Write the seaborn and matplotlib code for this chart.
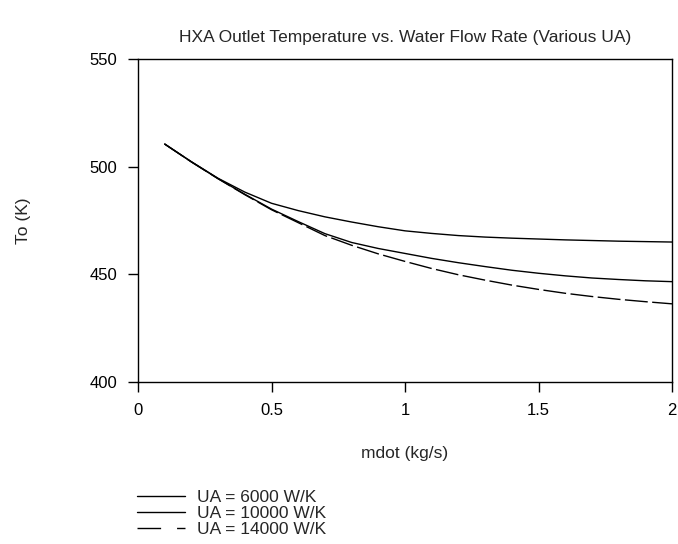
import numpy as np
import pandas as pd
import matplotlib
matplotlib.use("Agg")
import matplotlib.pyplot as plt
import seaborn as sns

mdot = [0.1, 0.2, 0.3, 0.4, 0.5, 0.6, 0.7, 0.8, 0.9, 1.0,
        1.1, 1.2, 1.3, 1.4, 1.5, 1.6, 1.7, 1.8, 1.9, 2.0]
to_ua6000 = [510.5, 502.3, 494.6, 488.2, 483.0, 479.6, 476.7, 474.3, 472.1, 470.2,
             469.0, 468.0, 467.3, 466.8, 466.4, 466.0, 465.7, 465.4, 465.2, 465.0]
to_ua10000 = [510.5, 502.2, 494.4, 487.2, 480.3, 474.5, 468.9, 464.8, 462.0, 459.7,
              457.4, 455.4, 453.6, 451.9, 450.5, 449.3, 448.3, 447.6, 447.0, 446.6]
to_ua14000 = [510.5, 502.2, 494.4, 487.0, 480.0, 474.0, 468.0, 463.5, 459.5, 456.0,
              452.7, 449.8, 447.3, 445.0, 443.0, 441.2, 439.7, 438.4, 437.3, 436.3]
labels = ["UA = 6000 W/K", "UA = 10000 W/K", "UA = 14000 W/K"]
x_ticks = [0, 0.5, 1, 1.5, 2]
x_tick_labels = ["0", "0.5", "1", "1.5", "2"]
y_ticks = [400, 450, 500, 550]

sns.set_style("ticks")
plt.rcParams['font.family'] = ['Liberation Sans', 'DejaVu Sans']

fig = plt.figure(figsize=(6.78, 5.44), dpi=100)
ax = fig.add_axes([138/678, 1-382/544, (672-138)/678, (382-59)/544])

series = [to_ua6000, to_ua10000, to_ua14000]
for vals, lab in zip(series, labels):
    df = pd.DataFrame({"mdot": mdot, "To": vals})
    sns.lineplot(data=df, x="mdot", y="To", ax=ax, color="black",
                 linewidth=1.0, label=lab)
ax.lines[2].set_dashes((16.5, 3.2))

ax.set_xlim(0, 2)
ax.set_ylim(400, 550)
ax.set_xticks(x_ticks)
ax.set_xticklabels(x_tick_labels)
ax.set_yticks(y_ticks)
ax.tick_params(direction="out", length=7.5, width=1, labelsize=12, colors="black", pad=7.5)
for s in ax.spines.values():
    s.set_visible(True)
    s.set_linewidth(1.0)
    s.set_color("black")

ax.set_xlabel("mdot (kg/s)", fontsize=12.5, labelpad=20)
ax.set_ylabel("To (K)", fontsize=12.5, labelpad=42)
ax.set_title("HXA Outlet Temperature vs. Water Flow Rate (Various UA)", fontsize=12.5, pad=12)

handles, labs = ax.get_legend_handles_labels()
ax.legend_.remove()
leg = fig.legend(handles, labs, loc="upper left", bbox_to_anchor=(137/678, 1-490/544),
                 frameon=False, fontsize=12.5, handlelength=2.75, handletextpad=0.7,
                 labelspacing=0.05, borderpad=0, borderaxespad=0)
leg.get_lines()[2].set_dashes((17, 11.5))

fig.savefig("out.png", dpi=100)
